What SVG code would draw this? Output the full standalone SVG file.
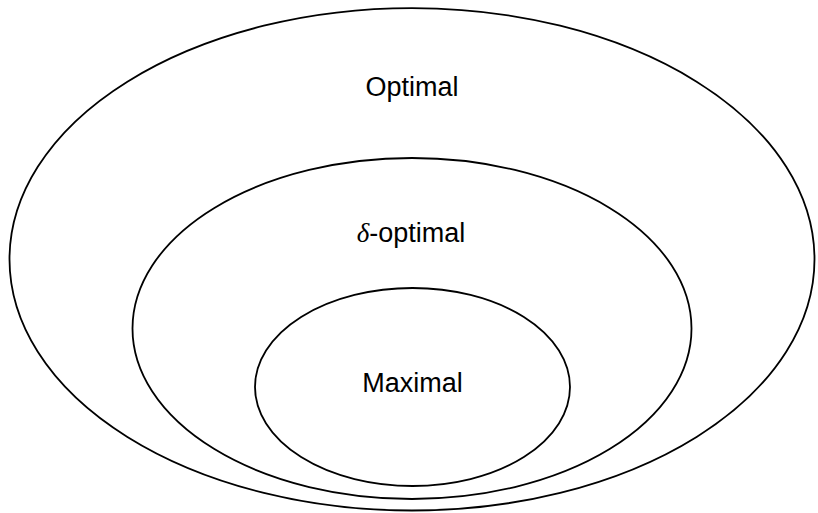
<svg xmlns="http://www.w3.org/2000/svg" width="818" height="513" viewBox="0 0 818 513">
<style>
.set{fill:none;stroke:#000;stroke-width:1.8}
.lbl{font-family:"Liberation Sans","DejaVu Sans",sans-serif;font-size:27px;fill:#000;text-anchor:middle}
.math{font-family:"Liberation Serif",serif;font-style:italic}
</style>
<rect width="818" height="513" fill="#fff"/>
<g id="optimal">
<ellipse class="set" cx="412" cy="259.3" rx="402.5" ry="251.2"/>
<text class="lbl" x="412" y="96">Optimal</text>
</g>
<g id="delta-optimal">
<ellipse class="set" cx="412" cy="328.5" rx="279.5" ry="170.5"/>
<text class="lbl" x="411" y="242"><tspan class="math">δ</tspan>-optimal</text>
</g>
<g id="maximal">
<ellipse class="set" cx="412.5" cy="387" rx="157.5" ry="99"/>
<text class="lbl" x="412.5" y="392">Maximal</text>
</g>
</svg>
